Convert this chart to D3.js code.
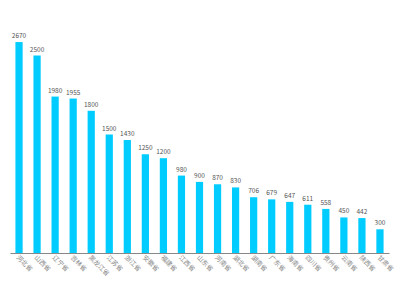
<!DOCTYPE html>
<html><head><meta charset="utf-8">
<script src="https://cdn.jsdelivr.net/npm/d3@7/dist/d3.min.js"></script>
<style>body{margin:0;background:#fff}svg{display:block}</style>
</head><body>
<script>
const categories = ["河北省","山西省","辽宁省","吉林省","黑龙江省","江苏省","浙江省","安徽省","福建省","江西省","山东省","河南省","湖北省","湖南省","广东省","海南省","四川省","贵州省","云南省","陕西省","甘肃省"];
const values = [2670,2500,1980,1955,1800,1500,1430,1250,1200,980,900,870,830,706,679,647,611,558,450,442,300];

const W = 400, H = 300;
const svg = d3.select("body").append("svg").attr("width", W).attr("height", H);
const x = d3.scaleBand().domain(categories).range([10, 389]).paddingInner(0.6).paddingOuter(0.3);
const y = d3.scaleLinear().domain([0, 3000]).range([253, 16]);

svg.append("g").selectAll("rect").data(values).join("rect")
  .attr("x", (d, i) => x(categories[i]))
  .attr("width", x.bandwidth())
  .attr("y", d => y(d))
  .attr("height", d => y(0) - y(d))
  .attr("fill", "#00ccff");

svg.append("g").selectAll("text").data(values).join("text")
  .attr("x", (d, i) => x(categories[i]) + x.bandwidth() / 2)
  .attr("y", d => y(d) - 4)
  .attr("text-anchor", "middle")
  .attr("font-family", "Noto Sans CJK SC, sans-serif")
  .attr("font-size", 6.5)
  .attr("fill", "#555")
  .text(d => d);

const ax = svg.append("g").attr("transform", `translate(0,${y(0)})`)
  .call(d3.axisBottom(x).tickSize(0).tickPadding(0));
ax.select(".domain").attr("stroke", "#888").attr("stroke-width", 1.2);
ax.selectAll("text")
  .attr("font-family", "Noto Sans CJK SC, sans-serif")
  .attr("font-size", 6.5)
  .attr("fill", "#888")
  .attr("text-anchor", "start")
  .attr("dy", 0)
  .attr("transform", "translate(-3,5) rotate(45)");
</script>
</body></html>
